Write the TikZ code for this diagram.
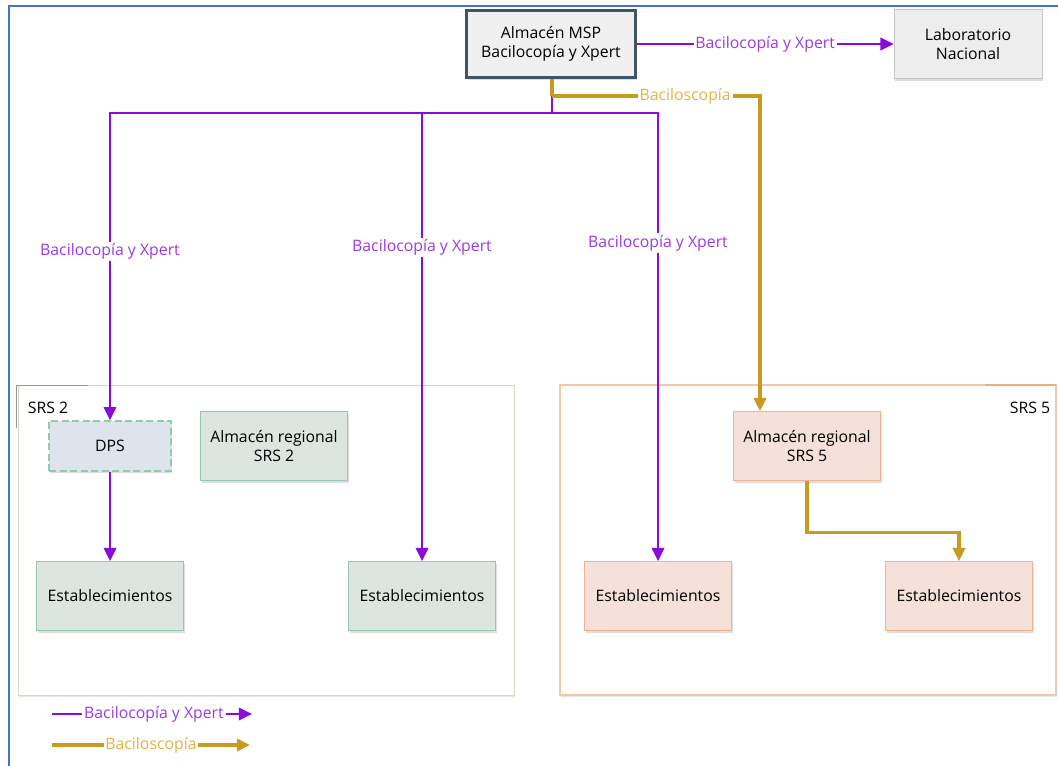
\documentclass[tikz,border=0pt]{standalone}
\usepackage{fontspec}
\setmainfont{Open Sans}
\usetikzlibrary{arrows.meta,shadows,calc}
\definecolor{frameblue}{RGB}{68,114,196}
\definecolor{mspline}{RGB}{63,84,104}
\definecolor{xpertpurple}{RGB}{138,12,219}
\definecolor{xpertlabel}{RGB}{158,58,226}
\definecolor{bacgold}{RGB}{200,154,32}
\definecolor{baclabel}{RGB}{226,180,72}
\definecolor{greenfill}{RGB}{220,229,223}
\definecolor{greenline}{RGB}{150,200,175}
\definecolor{pinkfill}{RGB}{245,225,218}
\definecolor{pinkline}{RGB}{240,180,140}
\definecolor{dpsfill}{RGB}{222,228,236}
\definecolor{srstwoline}{RGB}{214,218,190}
\definecolor{srsfiveline}{RGB}{245,200,165}

\begin{document}
\begin{tikzpicture}[x=0.02cm,y=-0.02cm,font=\fontsize{9}{11}\selectfont,
    box/.style={rectangle,align=center,inner sep=2pt,
        drop shadow={opacity=0.25,shadow xshift=0.6pt,shadow yshift=-1.2pt}},
    greenbox/.style={box,draw=greenline,fill=greenfill,minimum width=2.94cm,minimum height=1.38cm},
    pinkbox/.style={box,draw=pinkline,fill=pinkfill,minimum width=2.94cm,minimum height=1.38cm},
    xpert/.style={draw=xpertpurple,line width=1.4pt,-{Triangle[length=7.5pt,width=7pt]}},
    bac/.style={draw=bacgold,line width=1.8pt,-{Triangle[length=7.5pt,width=7pt]}},
    xlbl/.style={fill=white,text=xpertlabel,inner sep=1pt},
    blbl/.style={fill=white,text=baclabel,inner sep=1pt}]
    \useasboundingbox (0,0) rectangle (1058,766);

    % Frame
    \draw[frameblue,line width=1.4pt] (9,766) -- (9,6) -- (1058,6);

    % Regions
    \draw[srstwoline,drop shadow={opacity=0.2,shadow xshift=0.6pt,shadow yshift=-1.2pt},fill=white] (18,385) rectangle (514,695);
    \draw[gray!80] (16,428) -- (16,385) -- (88,385);
    \node (srs2lbl) at (48,408) {SRS 2};

    \draw[srsfiveline,line width=0.8pt,drop shadow={opacity=0.2,shadow xshift=0.6pt,shadow yshift=-1.2pt},fill=white] (560,385) rectangle (1056,695);
    \draw[pinkline!90!brown,line width=0.8pt] (985,385) -- (1056,385);
    \node (srs5lbl) at (1030,408) {SRS 5};

    % Stores
    \node[box,draw=mspline,line width=1.3pt,fill=gray!12,minimum width=3.38cm,minimum height=1.34cm] (msp) at (551,44) {Almacén MSP\\Bacilocopía y Xpert};
    \node[box,draw=gray!45,fill=gray!14,minimum width=2.96cm,minimum height=1.38cm] (lab) at (968,44) {Laboratorio\\Nacional};

    \node[box,draw=greenline,line width=0.8pt,dash pattern=on 4pt off 2pt,fill=dpsfill,minimum width=2.44cm,minimum height=1cm] (dps) at (110,446) {DPS};
    \node[greenbox] (alm2) at (274,446) {Almacén regional\\SRS 2};
    \node[pinkbox] (alm5) at (807,446) {Almacén regional\\SRS 5};

    % Establecimientos
    \node[greenbox] (est2a) at (110,596) {Establecimientos};
    \node[greenbox] (est2b) at (422,596) {Establecimientos};
    \node[pinkbox] (est5a) at (658,596) {Establecimientos};
    \node[pinkbox] (est5b) at (959,596) {Establecimientos};

    % Bacilocopia y Xpert
    \coordinate (hub) at (552,113);
    \draw[xpert] (msp) -- node[xlbl] {Bacilocopía y Xpert} (lab);
    \draw[draw=xpertpurple,line width=1.4pt] (msp.south -| hub) -- (hub);
    \draw[xpert] (hub) -| node[xlbl,pos=0.725] {Bacilocopía y Xpert} (dps.north);
    \draw[xpert] (hub) -| node[xlbl,pos=0.65] {Bacilocopía y Xpert} (est2b.north);
    \draw[xpert] (hub) -| node[xlbl,pos=0.645] {Bacilocopía y Xpert} (est5a.north);
    \draw[xpert] (dps) -- (est2a);

    % Baciloscopia
    \coordinate (bacturn) at (552,96);
    \draw[draw=bacgold,line width=1.8pt] (msp.south -| bacturn) -- (bacturn);
    \draw[bac] (bacturn) -| node[blbl,pos=0.32] {Baciloscopía} ($(alm5.north)+(-47,0)$);
    \draw[bac] (alm5.south) -- ++(0,52) -| (est5b.north);

    % Legend
    \coordinate (lgx1) at (52,714);
    \coordinate (lgx2) at (252,714);
    \coordinate (lgb1) at (52,745);
    \coordinate (lgb2) at (250,745);
    \draw[xpert] (lgx1) -- node[xlbl,pos=0.51] {Bacilocopía y Xpert} (lgx2);
    \draw[bac] (lgb1) -- node[blbl,pos=0.5] {Baciloscopía} (lgb2);
\end{tikzpicture}
\end{document}
